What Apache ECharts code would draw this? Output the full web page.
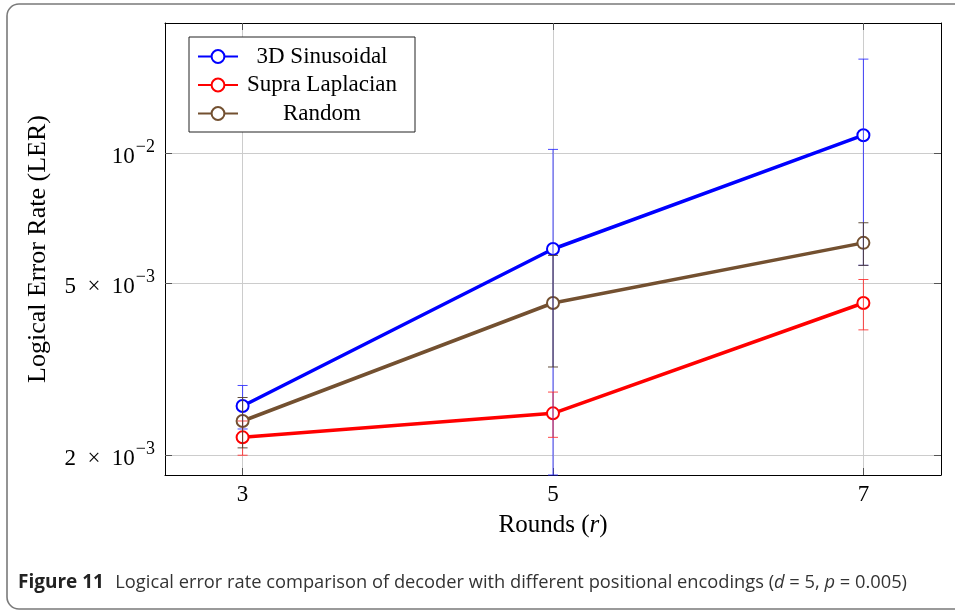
<!DOCTYPE html>
<html>
<head>
<meta charset="utf-8">
<script src="https://cdn.jsdelivr.net/npm/echarts@6/dist/echarts.min.js"></script>
<style>
html,body{margin:0;padding:0;background:#fff;}
#chart{width:955px;height:611px;}
</style>
</head>
<body>
<div id="chart"></div>
<script>
// ---- data ----
const rounds = [3, 5, 7];
const xTicks = [3, 5, 7];
const seriesNames = ['3D Sinusoidal', 'Supra Laplacian', 'Random'];
const sinusoidal = [2.6e-3, 6.0e-3, 1.1e-2];
const sinusoidalErr = [0.3e-3, 4.2e-3, 5.5e-3];
const supra = [2.2e-3, 2.5e-3, 4.5e-3];
const supraErr = [0.2e-3, 0.3e-3, 0.6e-3];
const randomVals = [2.4e-3, 4.5e-3, 6.2e-3];
const randomErr = [0.32e-3, 1.3e-3, 0.7e-3];
const yTickValues = [0.002, 0.005, 0.01];
const yTickMant = ['2\u2002×\u200210', '5\u2002×\u200210', '10'];
const yTickExp = ['−3', '−3', '−2'];
const xTitle = 'Rounds';
const yTitle = 'Logical Error Rate (LER)';
const captionLabel = 'Figure 11';
const captionText = 'Logical error rate comparison of decoder with different positional encodings (';

const SERIF = '"Liberation Serif", "DejaVu Serif", serif';
const SANS = '"Open Sans", "Noto Sans", sans-serif';
const FS = 23;
const colors = ['#0000ff', '#ff0000', '#735030'];
const errColors = ['rgba(40,40,255,0.85)', 'rgba(255,40,40,0.85)', 'rgba(80,60,40,0.9)'];

function lineSeries(name, vals, color) {
  return {
    type: 'line', name: name,
    data: rounds.map((r, i) => [r, vals[i]]),
    symbol: 'emptyCircle', symbolSize: 12,
    lineStyle: { color: color, width: 3.5 },
    itemStyle: { color: color, borderColor: color, borderWidth: 3 },
    emphasis: { disabled: true },
    z: 3
  };
}
function errSeries(vals, errs, color) {
  return {
    type: 'custom',
    data: rounds.map((r, i) => [r, vals[i] - errs[i], vals[i] + errs[i]]),
    renderItem: function (params, api) {
      const x = api.value(0);
      const lo = api.coord([x, api.value(1)]);
      const hi = api.coord([x, api.value(2)]);
      const w = 5;
      const st = { stroke: color, lineWidth: 1 };
      return { type: 'group', children: [
        { type: 'line', shape: { x1: lo[0], y1: lo[1], x2: hi[0], y2: hi[1] }, style: st },
        { type: 'line', shape: { x1: lo[0] - w, y1: lo[1], x2: lo[0] + w, y2: lo[1] }, style: st },
        { type: 'line', shape: { x1: hi[0] - w, y1: hi[1], x2: hi[0] + w, y2: hi[1] }, style: st }
      ]};
    },
    z: 4,
    silent: true
  };
}

const chart = echarts.init(document.getElementById('chart'), null, { renderer: 'canvas' });

const tickStyle = { show: true, inside: true, length: 7, lineStyle: { color: '#555', width: 1 } };

chart.setOption({
  animation: false,
  backgroundColor: '#fff',
  grid: { left: 165, right: 14, top: 23, bottom: 136, containLabel: false },
  xAxis: [{
    type: 'value', min: 2.5, max: 7.5,
    axisLine: { show: true, onZero: false, lineStyle: { color: '#000', width: 1 } },
    axisTick: Object.assign({ customValues: xTicks }, tickStyle),
    axisLabel: { customValues: xTicks, fontFamily: SERIF, fontSize: FS, color: '#000', margin: 8 },
    splitLine: { show: true, lineStyle: { color: '#cccccc', width: 1 } },
    name: xTitle + ' ({i|r})', nameLocation: 'middle', nameGap: 38,
    nameTextStyle: { fontFamily: SERIF, fontSize: 25, color: '#000',
      rich: { i: { fontFamily: SERIF, fontStyle: 'italic', fontSize: 25, color: '#000' } } }
  }, {
    type: 'value', min: 2.5, max: 7.5, position: 'top',
    axisLine: { show: true, onZero: false, lineStyle: { color: '#000', width: 1 } },
    axisTick: Object.assign({ customValues: xTicks }, tickStyle),
    axisLabel: { show: false }, splitLine: { show: false }
  }],
  yAxis: [{
    type: 'log', logBase: 10, min: 1.8e-3, max: 2.0e-2,
    axisLine: { show: true, onZero: false, lineStyle: { color: '#000', width: 1 } },
    axisTick: Object.assign({ customValues: yTickValues }, tickStyle),
    minorTick: { show: false },
    axisLabel: {
      customValues: yTickValues, margin: 10,
      formatter: function (v) {
        let k = 0, best = Infinity;
        yTickValues.forEach((t, i) => { const d = Math.abs(Math.log(t) - Math.log(v)); if (d < best) { best = d; k = i; } });
        return '{n|' + yTickMant[k] + '}{s|' + yTickExp[k] + '}';
      },
      rich: {
        n: { fontFamily: SERIF, fontSize: FS, color: '#000', lineHeight: 30, verticalAlign: 'bottom' },
        s: { fontFamily: SERIF, fontSize: 18, color: '#000', lineHeight: 30, verticalAlign: 'top', padding: [0, 0, 0, 1] }
      }
    },
    splitLine: { show: true, lineStyle: { color: '#cccccc', width: 1 } },
    name: yTitle, nameLocation: 'middle', nameGap: 114,
    nameTextStyle: { fontFamily: SERIF, fontSize: 26, color: '#000' }
  }, {
    type: 'log', logBase: 10, min: 1.8e-3, max: 2.0e-2, position: 'right',
    axisLine: { show: true, onZero: false, lineStyle: { color: '#000', width: 1 } },
    axisTick: Object.assign({ customValues: yTickValues }, tickStyle),
    axisLabel: { show: false }, splitLine: { show: false }
  }],
  legend: {
    data: seriesNames,
    orient: 'vertical', left: 189, top: 37,
    itemWidth: 40, itemHeight: 16, itemGap: 5.5,
    padding: [8, 14, 7, 8],
    borderColor: '#222', borderWidth: 1, backgroundColor: '#fff',
    formatter: function (name) { return '{c|' + name + '}'; },
    textStyle: { fontFamily: SERIF, fontSize: FS, color: '#000',
      rich: { c: { fontFamily: SERIF, fontSize: FS, color: '#000', width: 158, align: 'center', lineHeight: 24 } } },
    selectedMode: false,
    z: 10
  },
  graphic: [
    { type: 'rect', shape: { x: 7, y: 4, width: 980, height: 605, r: 12 },
      style: { fill: 'none', stroke: '#7a7a7a', lineWidth: 1.6 }, silent: true, z: -1 },
    { type: 'text', left: 18, top: 573,
      style: {
        text: '{b|' + captionLabel + '} {r|' + captionText + '}{i|d}{r| = 5, }{i|p}{r| = 0.005)}',
        rich: {
          b: { fontFamily: SANS, fontWeight: 'bold', fontSize: 19, fill: '#222', padding: [0, 8, 0, 0] },
          r: { fontFamily: SANS, fontSize: 18.3, fill: '#333' },
          i: { fontFamily: SANS, fontStyle: 'italic', fontSize: 18.3, fill: '#333' }
        }
      } }
  ],
  series: [
    errSeries(sinusoidal, sinusoidalErr, errColors[0]),
    errSeries(supra, supraErr, errColors[1]),
    errSeries(randomVals, randomErr, errColors[2]),
    lineSeries(seriesNames[0], sinusoidal, colors[0]),
    lineSeries(seriesNames[1], supra, colors[1]),
    lineSeries(seriesNames[2], randomVals, colors[2])
  ]
});
</script>
</body>
</html>
